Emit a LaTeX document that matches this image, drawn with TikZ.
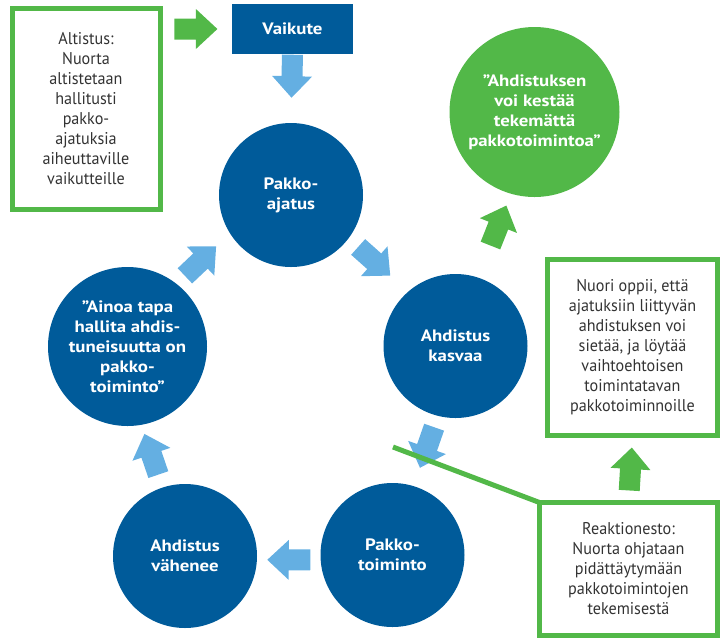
\documentclass[tikz,border=0pt]{standalone}
\usepackage{fontspec}
\setmainfont{PT Sans}[FakeStretch=0.95]
\newfontfamily\lihava{PT Sans Bold}[FakeStretch=1.14]
\usetikzlibrary{calc}
\definecolor{tummasini}{HTML}{005B9A}
\definecolor{vaaleasini}{HTML}{64AFE2}
\definecolor{vihrea}{HTML}{52B848}
\definecolor{teksti}{HTML}{333333}

\tikzset{
  nuoli/.pic={\fill[#1] (-21.5,-10.5) -- (0,-10.5) -- (0,-20) -- (21.5,0) -- (0,20) -- (0,10.5) -- (-21.5,10.5) -- cycle;},
  laatikko/.style={draw=vihrea,line width=5pt,align=center,text=teksti,inner sep=0pt,outer sep=0pt,font=\fontsize{17}{20}\selectfont},
}

% lohkonuoli kahden pisteen valiin
\newcommand\blokki[4][.5]{%
  \path let \p1=($(#3)-(#2)$), \n1={atan2(\y1,\x1)} in ($(#2)!#1!(#3)$) pic[rotate=\n1] {nuoli=#4};}

\begin{document}
\begin{tikzpicture}[x=1pt,y=-1pt]
      \useasboundingbox (0,0) rectangle (721,641);

      \begin{scope}[every node/.style={circle,fill=tummasini,text=white,align=center,inner sep=0pt,outer sep=0pt,minimum size=144pt,font=\fontsize{16.5}{20}\selectfont\lihava}]
        \node (ajatus) at (291,195) {Pakko-\\ajatus};
        \node (kasvaa) at (455.5,346) {Ahdistus\\kasvaa};
        \node (toiminto) at (392.5,555) {Pakko-\\toiminto};
        \node (vahenee) at (185,556) {Ahdistus\\vähenee};
        \node[minimum size=159pt] (ainoa) at (127.5,346.5) {”Ainoa tapa\\hallita ahdis-\\tuneisuutta on\\pakko-\\toiminto”};
        \node[fill=vihrea,minimum size=170pt] (kesta) at (534.5,112) {”Ahdistuksen\\voi kestää\\tekemättä\\pakkotoimintoa”};
      \end{scope}

      \node[fill=tummasini,text=white,minimum width=121pt,minimum height=50pt,font=\fontsize{16.5}{20}\selectfont\lihava] (vaikute) at (292.5,29) {Vaikute};

      \begin{scope}[every node/.style={laatikko}]
        \node[minimum width=148pt,minimum height=201.5pt] (altistus) at (86,109) {Altistus:\\Nuorta\\altistetaan\\hallitusti\\pakko-\\ajatuksia\\aiheuttaville\\vaikutteille};
        \node[minimum width=170pt,minimum height=176pt] (oppii) at (632.5,347.5) {Nuori oppii, että\\ajatuksiin liittyvän\\ahdistuksen voi\\sietää, ja löytää\\vaihtoehtoisen\\toimintatavan\\pakkotoiminnoille};
        \node[minimum width=178pt,minimum height=133pt] (reaktio) at (628.5,569) {Reaktionesto:\\Nuorta ohjataan\\pidättäytymään\\pakkotoimintojen\\tekemisestä};
      \end{scope}

      \blokki{altistus.east |- vaikute.west}{vaikute.west}{vihrea}
      \blokki[.32]{vaikute.south}{ajatus.north}{vaaleasini}
      \blokki[.43]{ajatus.-37}{kasvaa.131}{vaaleasini}
      \blokki[.45]{kasvaa.256}{toiminto.73}{vaaleasini}
      \blokki{toiminto.184}{vahenee.-3}{vaaleasini}
      \blokki[.53]{vahenee.108}{ainoa.-80}{vaaleasini}
      \blokki[.45]{ainoa.52}{ajatus.212}{vaaleasini}
      \blokki[.62]{kasvaa.72}{kesta.254}{vihrea}
      \blokki{reaktio.north}{oppii.south}{vihrea}

      % viiva reaktionestoon
      \coordinate (katko) at (393,447);
      \draw[vihrea,line width=5pt] (katko) -- (reaktio.north west);

\end{tikzpicture}
\end{document}
